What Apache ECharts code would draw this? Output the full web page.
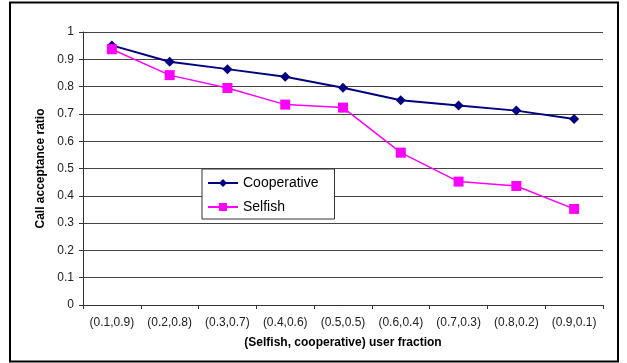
<!DOCTYPE html>
<html>
<head>
<meta charset="utf-8">
<style>
  html, body { margin: 0; padding: 0; background: #fff; }
  #chart { width: 627px; height: 363px; }
</style>
<script src="https://cdn.jsdelivr.net/npm/echarts@6/dist/echarts.min.js"></script>
</head>
<body>
<div id="chart"></div>
<script>
// (Selfish, cooperative) user fractions on the x axis
const categories = ['(0.1,0.9)', '(0.2,0.8)', '(0.3,0.7)', '(0.4,0.6)', '(0.5,0.5)', '(0.6,0.4)', '(0.7,0.3)', '(0.8,0.2)', '(0.9,0.1)'];
// Call acceptance ratio per scheme
const cooperative = [0.951, 0.891, 0.864, 0.836, 0.796, 0.750, 0.731, 0.712, 0.681];
const selfish = [0.937, 0.842, 0.795, 0.734, 0.723, 0.558, 0.452, 0.436, 0.352];
// Y axis tick labels
const yTickLabels = ['0', '0.1', '0.2', '0.3', '0.4', '0.5', '0.6', '0.7', '0.8', '0.9', '1'];

const font = 'Arial, "Liberation Sans", sans-serif';
const chart = echarts.init(document.getElementById('chart'), null, { renderer: 'canvas' });

chart.setOption({
  animation: false,
  backgroundColor: '#fff',
  graphic: [{
    type: 'rect',
    shape: { x: 10, y: 2.5, width: 608, height: 359 },
    style: { fill: 'none', stroke: '#000', lineWidth: 2 },
    z: 100
  }],
  grid: { left: 83, right: 24, top: 32, bottom: 58 },
  legend: {
    orient: 'vertical',
    left: 202,
    top: 169,
    padding: [7, 16, 5, 5],
    itemGap: 10,
    itemWidth: 30,
    itemHeight: 10,
    backgroundColor: '#fff',
    borderColor: '#333',
    borderWidth: 1,
    borderRadius: 0,
    textStyle: { fontFamily: font, fontSize: 14, color: '#000' },
    data: ['Cooperative', 'Selfish']
  },
  xAxis: {
    type: 'category',
    data: categories,
    boundaryGap: true,
    name: '(Selfish, cooperative) user fraction',
    nameLocation: 'middle',
    nameGap: 32,
    nameTextStyle: { fontFamily: font, fontSize: 12, fontWeight: 'bold', color: '#000' },
    axisLine: { lineStyle: { color: '#333', width: 1 } },
    axisTick: { show: true, length: 4, alignWithLabel: false, lineStyle: { color: '#333' } },
    axisLabel: { fontFamily: font, fontSize: 12, color: '#222', margin: 12, interval: 0 },
    splitLine: { show: false }
  },
  yAxis: {
    type: 'value',
    min: 0,
    max: 1,
    interval: 0.1,
    name: 'Call acceptance ratio',
    nameLocation: 'middle',
    nameGap: 35,
    nameTextStyle: { fontFamily: font, fontSize: 12, fontWeight: 'bold', color: '#000' },
    axisLine: { show: true, lineStyle: { color: '#333', width: 1 } },
    axisTick: { show: true, length: 4, lineStyle: { color: '#333' } },
    axisLabel: {
      fontFamily: font, fontSize: 12, color: '#222', margin: 9,
      formatter: function (v) { return yTickLabels[Math.round(v * 10)]; }
    },
    splitLine: { show: true, lineStyle: { color: '#444', width: 1 } }
  },
  series: [
    {
      name: 'Cooperative',
      type: 'line',
      data: cooperative,
      symbol: 'diamond',
      symbolSize: 10,
      color: '#000080',
      lineStyle: { color: '#000080', width: 2 },
      itemStyle: { color: '#000080' },
      z: 3
    },
    {
      name: 'Selfish',
      type: 'line',
      data: selfish,
      symbol: 'rect',
      symbolSize: 10,
      color: '#ff00ff',
      lineStyle: { color: '#ff00ff', width: 1.5 },
      itemStyle: { color: '#ff00ff' },
      z: 4
    }
  ]
});
</script>
</body>
</html>
